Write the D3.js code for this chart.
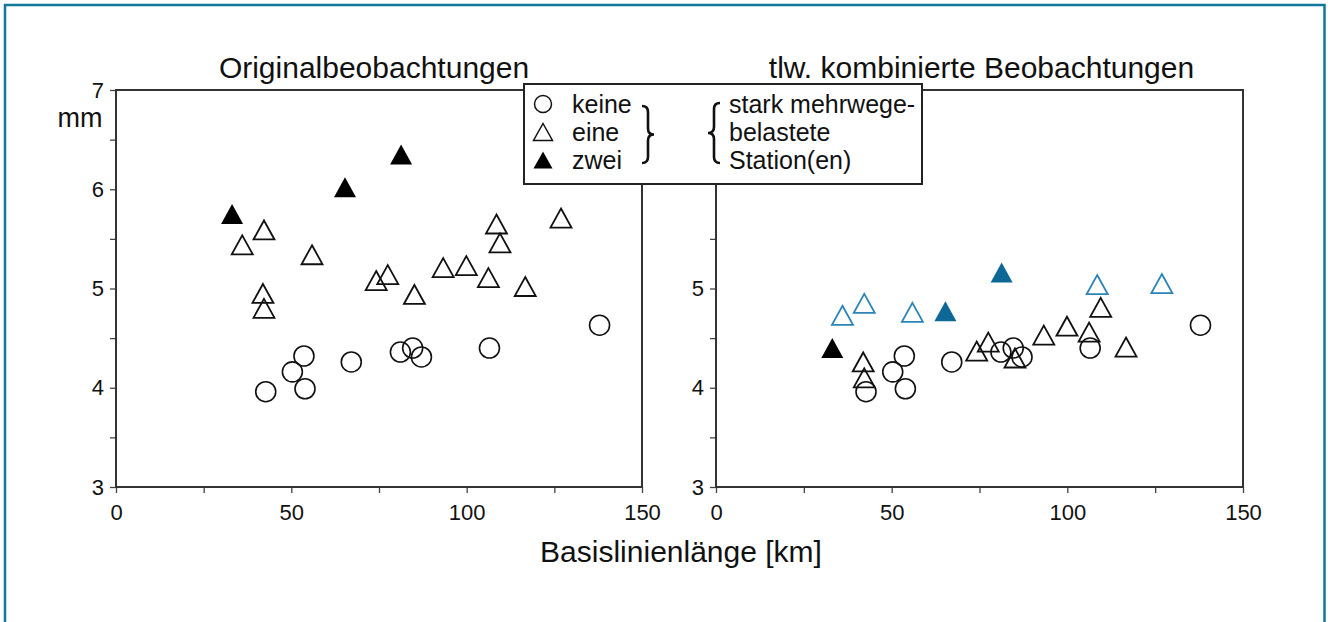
<!DOCTYPE html>
<html>
<head>
<meta charset="utf-8">
<script src="https://cdn.jsdelivr.net/npm/d3@7"></script>
<style>
  body { margin: 0; background: #fff; }
  svg text { font-family: "Liberation Sans", Arial, sans-serif; fill: #111; }
</style>
</head>
<body>
<div id="chart"></div>
<script>
// ---- data (Basislinienlänge in km, Wert in mm) ----
const keineX = [42.7, 50.3, 53.6, 53.9, 67.1, 81.1, 84.6, 87.1, 106.5, 137.9];
const keineY = [3.96, 4.16, 4.32, 3.99, 4.26, 4.36, 4.40, 4.31, 4.40, 4.63];

const eineX = [36.0, 42.2, 41.9, 42.2, 55.9, 74.2, 77.5, 85.1, 93.3, 99.9, 106.2, 108.5, 109.5, 116.7, 126.9];
const eineYOrig = [5.44, 5.59, 4.95, 4.80, 5.34, 5.08, 5.14, 4.94, 5.21, 5.23, 5.11, 5.65, 5.46, 5.02, 5.71];
const eineYKomb = [4.73, 4.85, 4.26, 4.10, 4.76, 4.37, 4.46, 4.30, 4.53, 4.62, 4.56, 5.04, 4.81, 4.41, 5.05];
const eineMehrweg = [1, 1, 0, 0, 1, 0, 0, 0, 0, 0, 0, 1, 0, 0, 1];

const zweiX = [33.1, 65.3, 81.3];
const zweiYOrig = [5.75, 6.02, 6.35];
const zweiYKomb = [4.40, 4.77, 5.16];
const zweiMehrweg = [0, 1, 1];

const xTicks = [0, 25, 50, 75, 100, 125, 150];
const yTicks = [3, 3.5, 4, 4.5, 5, 5.5, 6, 6.5, 7];
const yTicksRight = [3, 3.5, 4, 4.5, 5, 5.5];

const titles = ['Originalbeobachtungen', 'tlw. kombinierte Beobachtungen'];
const legendLabels = ['keine', 'eine', 'zwei'];
const legendNote = ['stark mehrwege-', 'belastete', 'Station(en)'];

const BLUE_FILL = '#0d6898';
const BLUE_LINE = '#2a84b8';

const W = 1328, H = 622;
const svg = d3.select('#chart').append('svg')
  .attr('width', W).attr('height', H);

// outer border
svg.append('rect')
  .attr('x', 5).attr('y', 5).attr('width', W - 3.5 - 5).attr('height', H + 20)
  .attr('fill', 'none').attr('stroke', '#10779a').attr('stroke-width', 2.5);

const plotTop = 90, plotBottom = 487;
const y = d3.scaleLinear().domain([3, 7]).range([plotBottom, plotTop]);

function triPath(cx, cy, w = 21, h = 19) {
  return `M${cx},${cy - h / 2}L${cx + w / 2},${cy + h / 2}L${cx - w / 2},${cy + h / 2}Z`;
}

function drawPanel(left, right, title, ticksY, eineY, zweiY, eineFlag, zweiFlag) {
  const x = d3.scaleLinear().domain([0, 150]).range([left, right]);
  const g = svg.append('g');

  // axes
  const xAxis = d3.axisBottom(x).tickValues(xTicks).tickSize(6).tickPadding(7)
    .tickFormat(d => d % 50 === 0 ? d : '');
  const yAxis = d3.axisLeft(y).tickValues(ticksY).tickSize(6).tickPadding(6)
    .tickFormat(d => Number.isInteger(d) ? d : '');

  const gx = g.append('g').attr('transform', `translate(0,${plotBottom})`).call(xAxis);
  const gy = g.append('g').attr('transform', `translate(${left},0)`).call(yAxis);
  [gx, gy].forEach(a => {
    a.select('.domain').remove();
    a.selectAll('.tick line').attr('stroke', '#444').attr('stroke-width', 1.3);
    a.selectAll('.tick text').style('font-size', '22px').attr('fill', '#111');
  });
  gx.selectAll('.tick text').attr('dy', '0.9em');

  // frame
  g.append('rect')
    .attr('x', left).attr('y', plotTop).attr('width', right - left).attr('height', plotBottom - plotTop)
    .attr('fill', 'none').attr('stroke', '#333').attr('stroke-width', 2);

  g.append('text')
    .attr('x', (left + right) / 2 + (left > 600 ? 2 : -5)).attr('y', 78)
    .attr('text-anchor', 'middle').style('font-size', '30px')
    .text(title);

  // circles (keine)
  g.selectAll('circle.keine').data(keineX).enter().append('circle')
    .attr('class', 'keine')
    .attr('cx', d => x(d)).attr('cy', (d, i) => y(keineY[i])).attr('r', 10)
    .attr('fill', 'none').attr('stroke', '#111').attr('stroke-width', 1.6);

  // open triangles (eine)
  g.selectAll('path.eine').data(eineX).enter().append('path')
    .attr('class', 'eine')
    .attr('d', (d, i) => triPath(x(d), y(eineY[i])))
    .attr('fill', 'none')
    .attr('stroke', (d, i) => eineFlag && eineFlag[i] ? BLUE_LINE : '#111')
    .attr('stroke-width', 1.8);

  // filled triangles (zwei)
  g.selectAll('path.zwei').data(zweiX).enter().append('path')
    .attr('class', 'zwei')
    .attr('d', (d, i) => triPath(x(d), y(zweiY[i]), 22, 20))
    .attr('fill', (d, i) => zweiFlag && zweiFlag[i] ? BLUE_FILL : '#000')
    .attr('stroke', 'none');
  return x;
}

drawPanel(116, 642, titles[0], yTicks, eineYOrig, zweiYOrig, null, null);
drawPanel(716, 1243, titles[1], yTicksRight, eineYKomb, zweiYKomb, eineMehrweg, zweiMehrweg);

// unit label
svg.append('text').attr('x', 80).attr('y', 127)
  .attr('text-anchor', 'middle').style('font-size', '27px').text('mm');

// x axis title
svg.append('text').attr('x', 681).attr('y', 562)
  .attr('text-anchor', 'middle').style('font-size', '30px').text('Basislinienlänge [km]');

// legend
const lg = svg.append('g');
lg.append('rect').attr('x', 524).attr('y', 84).attr('width', 398).attr('height', 100)
  .attr('fill', '#fff').attr('stroke', '#222').attr('stroke-width', 2);

const rowY = [104, 132, 160];
lg.append('circle').attr('cx', 543).attr('cy', rowY[0]).attr('r', 8.5)
  .attr('fill', 'none').attr('stroke', '#111').attr('stroke-width', 1.5);
lg.append('path').attr('d', triPath(543, rowY[1], 19, 17)).attr('fill', 'none')
  .attr('stroke', '#111').attr('stroke-width', 1.5);
lg.append('path').attr('d', triPath(543, rowY[2], 19, 17)).attr('fill', '#000');

lg.selectAll('text.lab').data(legendLabels).enter().append('text')
  .attr('class', 'lab')
  .attr('x', 572).attr('y', (d, i) => rowY[i] + 9)
  .style('font-size', '25px').text(d => d);

lg.selectAll('text.note').data(legendNote).enter().append('text')
  .attr('class', 'note')
  .attr('x', 729).attr('y', (d, i) => rowY[i] + 9)
  .style('font-size', '25px').text(d => d);

// braces
function brace(x0, y0, y1, dir) {
  const m = (y0 + y1) / 2, d = 6 * dir;
  return `M${x0},${y0} q${d},0 ${d},6 L${x0 + d},${m - 6} q0,6 ${d},6 q${-d},0 ${-d},6 L${x0 + d},${y1 - 6} q0,6 ${-d},6`;
}
lg.append('path').attr('d', brace(642, 106, 163, 1))
  .attr('fill', 'none').attr('stroke', '#111').attr('stroke-width', 2.6);
lg.append('path').attr('d', brace(720, 103, 163, -1))
  .attr('fill', 'none').attr('stroke', '#111').attr('stroke-width', 2.6);
</script>
</body>
</html>
